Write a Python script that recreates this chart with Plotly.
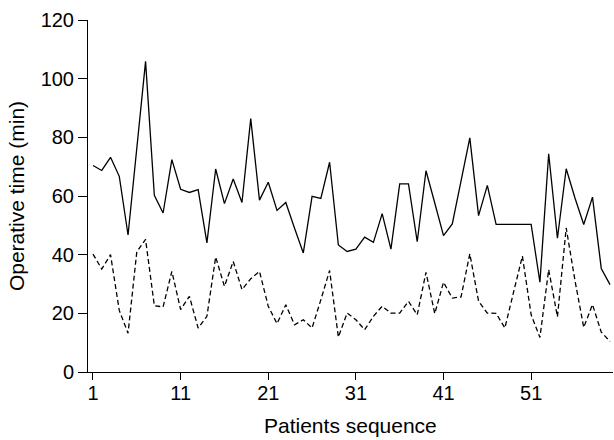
import plotly.graph_objects as go

patients = list(range(1, 61))

total_time = [70.4, 68.7, 73.2, 66.7, 46.7, 76.0, 105.9, 60.2, 54.2, 72.4,
              62.3, 61.2, 62.2, 44.0, 69.2, 57.4, 65.8, 57.8, 86.4, 58.6,
              64.7, 55.1, 57.8, 49.0, 40.6, 59.9, 59.2, 71.5, 43.3, 41.1,
              41.9, 46.0, 44.2, 54.0, 41.9, 64.1, 64.1, 44.4, 68.6, 57.6,
              46.5, 50.5, 65.5, 79.8, 53.3, 63.6, 50.3, 50.3, 50.3, 50.3,
              50.3, 30.6, 74.4, 45.6, 69.3, 59.3, 50.3, 59.6, 35.3, 29.8]

step_time = [40.2, 35.1, 40.0, 21.0, 13.2, 41.0, 45.2, 22.6, 22.2, 34.3,
             21.3, 25.8, 15.0, 19.0, 39.2, 29.2, 37.7, 28.1, 31.8, 34.3,
             22.4, 16.5, 22.9, 16.1, 17.8, 15.0, 24.6, 34.6, 11.9, 20.1,
             17.8, 14.4, 19.0, 22.4, 20.1, 20.1, 24.1, 19.5, 34.0, 19.9,
             30.6, 25.2, 25.6, 40.3, 24.1, 20.1, 20.0, 15.0, 27.3, 39.5,
             19.5, 11.8, 34.9, 18.8, 49.1, 31.2, 15.2, 23.0, 13.6, 10.4]

x_ticks = [1, 11, 21, 31, 41, 51]
y_ticks = [0, 20, 40, 60, 80, 100, 120]

FONT = "Liberation Sans, Arial, sans-serif"

fig = go.Figure()
fig.add_trace(go.Scatter(x=patients, y=total_time, mode="lines",
                         line=dict(color="black", width=1.3),
                         showlegend=False))
fig.add_trace(go.Scatter(x=patients, y=step_time, mode="lines",
                         line=dict(color="black", width=1.3, dash="5px,3px"),
                         showlegend=False))

fig.update_layout(
    width=614, height=440,
    margin=dict(l=88, r=1, t=20, b=68),
    paper_bgcolor="white", plot_bgcolor="white",
    font=dict(family=FONT, size=20, color="black"),
    xaxis=dict(
        range=[0.43, 60.34], tickmode="array", tickvals=x_ticks,
        ticktext=[str(v) for v in x_ticks],
        showgrid=False, zeroline=False, automargin=False,
        showline=True, linecolor="black", linewidth=1,
        ticks="outside", ticklen=7, tickwidth=1, tickcolor="black",
        ticklabelstandoff=-4,
        tickfont=dict(family=FONT, size=20, color="black"),
    ),
    yaxis=dict(
        range=[0, 120], tickmode="array", tickvals=y_ticks,
        ticktext=[str(v) for v in y_ticks],
        showgrid=False, zeroline=False, automargin=False,
        showline=True, linecolor="black", linewidth=1,
        ticks="outside", ticklen=9, tickwidth=1, tickcolor="black",
        tickfont=dict(family=FONT, size=20, color="black"),
        title=dict(text="Operative time (min)", font=dict(family=FONT, size=21, color="black"),
                   standoff=10),
    ),
    annotations=[dict(
        text="Patients sequence", xref="paper", yref="paper",
        x=0.5, y=-0.152, xanchor="center", yanchor="middle", showarrow=False,
        borderpad=0,
        font=dict(family=FONT, size=21, color="black"),
    )],
)

fig.write_html("out.html", config={"displayModeBar": False},
               post_script="document.body.style.margin='0';document.body.style.padding='0';")
